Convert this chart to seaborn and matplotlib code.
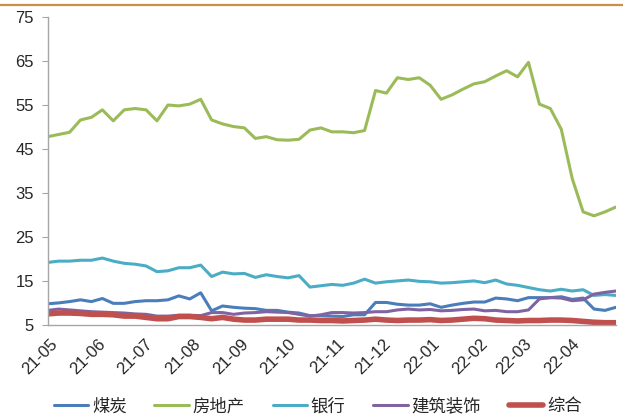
import pandas as pd
import numpy as np
import matplotlib
matplotlib.use("Agg")
import matplotlib.pyplot as plt
import matplotlib.dates as mdates
from matplotlib.lines import Line2D
import seaborn as sns

# weekly dates, 53 points
dates = pd.date_range("2021-04-30", periods=53, freq="7D")

coal = [9.8, 10.0, 10.3, 10.7, 10.3, 11.0, 9.9, 9.9, 10.3, 10.5, 10.5, 10.7, 11.6, 10.9, 12.3, 8.2, 9.3, 9.0,
        8.8, 8.7, 8.3, 8.3, 7.9, 7.7, 7.1, 7.1, 7.0, 6.9, 7.3, 7.3, 10.1, 10.1, 9.7, 9.5, 9.5, 9.8,
        9.0, 9.5, 9.9, 10.2, 10.2, 11.1, 10.9, 10.5, 11.2, 11.2, 11.2, 11.4, 10.8, 11.1, 8.6, 8.3, 9.0]
realestate = [47.8, 48.3, 48.8, 51.6, 52.2, 53.9, 51.4, 53.9, 54.2, 53.9, 51.4, 55.0, 54.8, 55.2, 56.3, 51.6, 50.7, 50.1,
              49.8, 47.4, 47.8, 47.1, 47.0, 47.2, 49.3, 49.8, 48.9, 48.9, 48.7, 49.2, 58.3, 57.7, 61.2, 60.8, 61.2, 59.5,
              56.3, 57.3, 58.6, 59.8, 60.3, 61.6, 62.8, 61.4, 64.7, 55.2, 54.2, 49.5, 38.3, 30.7, 29.8, 30.7, 31.8]
bank = [19.2, 19.5, 19.5, 19.7, 19.7, 20.2, 19.5, 19.0, 18.8, 18.4, 17.1, 17.3, 18.0, 18.0, 18.6, 16.0, 17.0, 16.6,
        16.7, 15.8, 16.4, 16.0, 15.7, 16.2, 13.6, 13.9, 14.2, 14.0, 14.5, 15.4, 14.5, 14.8, 15.0, 15.2, 14.9, 14.8,
        14.5, 14.6, 14.8, 15.0, 14.6, 15.2, 14.3, 14.0, 13.5, 13.0, 12.7, 13.1, 12.7, 13.0, 11.7, 11.9, 11.7]
construction = [8.3, 8.6, 8.4, 8.2, 8.0, 7.9, 7.8, 7.7, 7.5, 7.4, 7.0, 7.0, 7.2, 7.2, 7.1, 7.8, 7.8, 7.4,
                7.7, 7.8, 8.0, 7.9, 7.8, 7.4, 7.0, 7.3, 7.8, 7.8, 7.7, 7.8, 8.0, 8.0, 8.4, 8.6, 8.4, 8.5,
                8.2, 8.3, 8.5, 8.6, 8.2, 8.3, 8.0, 8.0, 8.4, 10.9, 11.2, 11.1, 10.5, 10.7, 12.0, 12.4, 12.7]
composite = [7.5, 7.7, 7.7, 7.6, 7.4, 7.4, 7.3, 7.0, 7.0, 6.7, 6.4, 6.4, 6.9, 6.9, 6.7, 6.4, 6.7, 6.3,
             6.1, 6.1, 6.3, 6.3, 6.3, 6.1, 6.1, 6.0, 6.0, 5.9, 6.0, 6.1, 6.3, 6.1, 6.0, 6.1, 6.1, 6.2,
             6.0, 6.1, 6.3, 6.5, 6.4, 6.1, 6.0, 5.9, 6.0, 6.0, 6.1, 6.1, 6.0, 5.8, 5.6, 5.5, 5.5]

names = ["煤炭", "房地产", "银行", "建筑装饰", "综合"]
series = [coal, realestate, bank, construction, composite]
colors = ["#4a7ebb", "#9bbb59", "#4bacc6", "#8064a2", "#c0504d"]
widths = [2.2, 2.2, 2.2, 2.2, 4.0]

df = pd.DataFrame({"date": np.tile(dates, len(names)),
                   "name": np.repeat(names, len(dates)),
                   "value": np.concatenate(series)})

sns.set_style("white")
plt.rcParams['font.family'] = ['Liberation Sans', 'Noto Sans CJK SC', 'DejaVu Sans']

fig = plt.figure(figsize=(6.23, 4.16), dpi=100)
ax = fig.add_axes([0.0766, 0.219, 0.912, 0.74])

for n, c, w in zip(names, colors, widths):
    sns.lineplot(data=df[df["name"] == n], x="date", y="value", color=c, linewidth=w, ax=ax, label=n)

ax.set_ylim(5, 75)
ax.set_yticks(range(5, 80, 10))
ax.set_xlim(dates[0], dates[-1])
ax.xaxis.set_major_locator(mdates.MonthLocator())
ax.xaxis.set_major_formatter(mdates.DateFormatter("%y-%m"))
ax.set_xlabel("")
ax.set_ylabel("")
for s in ["top", "right"]:
    ax.spines[s].set_visible(False)
for s in ["left", "bottom"]:
    ax.spines[s].set_color("#a6a6a6")
    ax.spines[s].set_linewidth(1)
ax.tick_params(axis="y", length=4, color="#a6a6a6", labelsize=12, pad=6, direction="out", left=True)
ax.tick_params(axis="x", length=0, labelsize=12, pad=8)
for lab in ax.get_xticklabels():
    lab.set_rotation(45)
    lab.set_ha("right")
    lab.set_rotation_mode("anchor")

ax.get_legend().remove()
handles = [Line2D([0], [0], color=c, linewidth=w) for c, w in zip(colors, widths)]
fig.legend(handles, names, loc="center", bbox_to_anchor=(0.51, 0.024), ncol=5, frameon=False,
           fontsize=12.5, handlelength=2.0, handletextpad=0.2, columnspacing=1.6)

# orange rule at top of the picture
fig.add_artist(Line2D([0, 1], [0.988, 0.988], color="#c8914a", linewidth=1.6, transform=fig.transFigure))

fig.savefig("out.png", dpi=100)
